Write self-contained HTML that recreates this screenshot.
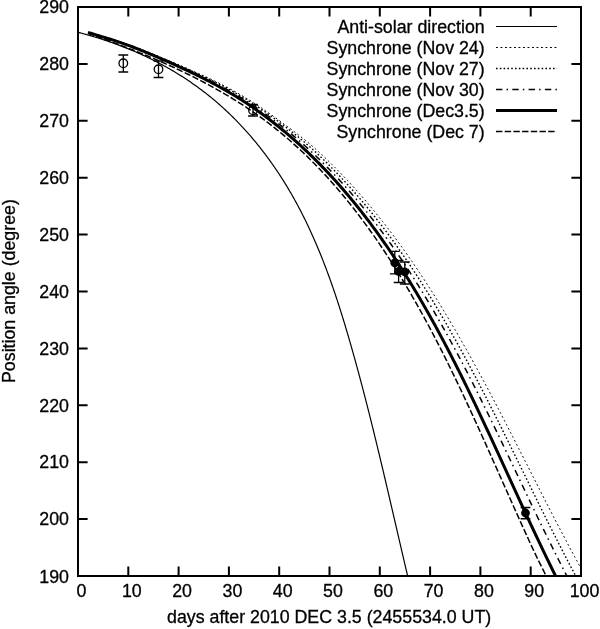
<!DOCTYPE html><html><head><meta charset="utf-8"><style>html,body{margin:0;padding:0;background:#fff;}svg{display:block;will-change:transform}</style></head><body>
<svg width="600" height="629" viewBox="0 0 600 629">
<rect width="600" height="629" fill="#fff"/>
<defs><clipPath id="pc"><rect x="78" y="7" width="503" height="569"/></clipPath></defs>
<g fill="none" stroke="#000" stroke-linejoin="round" clip-path="url(#pc)">
<path d="M77.74 32.24L79.06 32.58L80.38 32.92L81.69 33.27L83.01 33.62L84.33 33.98L85.64 34.34L86.96 34.71L88.27 35.08L89.59 35.45L90.90 35.83L92.21 36.22L93.52 36.60L94.83 37.00L96.14 37.40L97.45 37.80L98.75 38.20L100.06 38.62L101.36 39.03L102.66 39.45L103.96 39.88L105.26 40.31L106.56 40.75L107.86 41.18L109.15 41.63L110.45 42.08L111.74 42.53L113.03 42.99L114.32 43.45L115.61 43.92L116.89 44.39L118.18 44.87L119.46 45.35L120.74 45.84L122.02 46.33L123.30 46.83L124.57 47.33L125.85 47.83L127.12 48.35L128.39 48.86L129.66 49.38L130.92 49.91L132.19 50.43L133.45 50.97L134.71 51.51L135.97 52.05L137.22 52.60L138.48 53.16L139.73 53.71L140.98 54.28L142.22 54.85L143.47 55.42L144.71 56.00L145.95 56.58L147.18 57.17L148.42 57.76L149.65 58.36L150.88 58.96L152.11 59.57L153.33 60.18L154.55 60.79L155.77 61.42L156.99 62.04L158.20 62.67L159.41 63.31L160.62 63.95L161.82 64.60L163.03 65.25L164.23 65.91L165.42 66.57L166.62 67.23L167.81 67.90L168.99 68.58L170.18 69.26L171.36 69.95L172.54 70.64L173.71 71.34L174.88 72.04L176.05 72.74L177.22 73.45L178.38 74.17L179.54 74.89L180.69 75.62L181.84 76.35L182.99 77.08L184.14 77.82L185.28 78.57L186.42 79.32L187.55 80.07L188.68 80.83L189.81 81.60L190.94 82.37L192.06 83.14L193.17 83.92L194.29 84.70L195.40 85.49L196.50 86.29L197.61 87.09L198.71 87.89L199.80 88.70L200.89 89.51L201.98 90.33L203.06 91.15L204.15 91.98L205.22 92.81L206.29 93.65L207.36 94.49L208.43 95.34L209.49 96.19L210.55 97.04L211.60 97.90L212.65 98.77L213.69 99.64L214.73 100.51L215.77 101.39L216.80 102.28L217.83 103.17L218.86 104.06L219.88 104.96L220.89 105.86L221.91 106.77L222.91 107.68L223.92 108.59L224.92 109.51L225.91 110.44L226.91 111.37L227.90 112.30L228.88 113.24L229.86 114.18L230.84 115.12L231.81 116.07L232.78 117.03L233.74 117.99L234.70 118.95L235.66 119.92L236.61 120.89L237.56 121.86L238.50 122.84L239.44 123.83L240.37 124.81L241.31 125.80L242.23 126.80L243.16 127.80L244.08 128.80L244.99 129.81L245.91 130.82L246.81 131.83L247.72 132.85L248.62 133.87L249.51 134.90L250.40 135.93L251.29 136.96L252.17 138.00L253.05 139.04L253.93 140.08L254.80 141.13L255.67 142.18L256.53 143.23L257.39 144.29L258.25 145.35L259.10 146.41L259.95 147.48L260.79 148.55L261.63 149.63L262.47 150.70L263.30 151.78L264.13 152.87L264.95 153.96L265.77 155.05L266.58 156.14L267.40 157.24L268.20 158.34L269.01 159.44L269.81 160.55L270.60 161.65L271.40 162.77L272.18 163.88L272.97 165.00L273.75 166.12L274.52 167.24L275.29 168.37L276.06 169.50L276.83 170.63L277.59 171.76L278.34 172.90L279.10 174.04L279.84 175.19L280.59 176.33L281.33 177.48L282.06 178.63L282.80 179.78L283.52 180.94L284.25 182.10L284.97 183.26L285.69 184.42L286.40 185.59L287.11 186.75L287.81 187.92L288.51 189.10L289.21 190.27L289.90 191.45L290.59 192.63L291.28 193.81L291.96 194.99L292.63 196.18L293.31 197.37L293.98 198.56L294.64 199.75L295.30 200.95L295.96 202.14L296.61 203.34L297.26 204.54L297.91 205.74L298.55 206.95L299.19 208.16L299.82 209.36L300.46 210.57L301.08 211.79L301.71 213.00L302.33 214.22L302.94 215.44L303.55 216.66L304.16 217.88L304.77 219.10L305.37 220.33L305.97 221.55L306.56 222.78L307.15 224.01L307.74 225.24L308.33 226.48L308.91 227.71L309.49 228.95L310.06 230.19L310.63 231.43L311.20 232.67L311.76 233.92L312.32 235.16L312.88 236.41L313.44 237.66L313.99 238.91L314.54 240.16L315.08 241.41L315.63 242.67L316.16 243.92L316.70 245.18L317.23 246.44L317.76 247.70L318.29 248.96L318.82 250.22L319.34 251.49L319.86 252.75L320.37 254.02L320.89 255.29L321.40 256.56L321.90 257.83L322.41 259.10L322.91 260.38L323.41 261.65L323.90 262.93L324.40 264.20L324.89 265.48L325.38 266.76L325.86 268.04L326.35 269.32L326.83 270.61L327.31 271.89L327.78 273.17L328.25 274.46L328.73 275.75L329.19 277.04L329.66 278.33L330.12 279.62L330.58 280.91L331.04 282.20L331.50 283.49L331.96 284.79L332.41 286.08L332.86 287.38L333.31 288.67L333.75 289.97L334.19 291.27L334.64 292.57L335.07 293.87L335.51 295.17L335.95 296.47L336.38 297.77L336.81 299.07L337.24 300.38L337.67 301.68L338.09 302.99L338.52 304.29L338.94 305.60L339.36 306.91L339.78 308.21L340.19 309.52L340.61 310.83L341.02 312.14L341.43 313.45L341.84 314.76L342.25 316.07L342.65 317.38L343.06 318.70L343.46 320.01L343.86 321.32L344.26 322.63L344.66 323.95L345.05 325.26L345.45 326.58L345.84 327.89L346.24 329.21L346.63 330.52L347.02 331.84L347.40 333.15L347.79 334.47L348.18 335.79L348.56 337.10L348.94 338.42L349.33 339.74L349.71 341.06L350.09 342.37L350.46 343.69L350.84 345.01L351.22 346.33L351.59 347.65L351.97 348.96L352.34 350.28L352.71 351.60L353.08 352.92L353.45 354.24L353.82 355.56L354.19 356.88L354.56 358.19L354.92 359.51L355.29 360.83L355.65 362.15L356.01 363.47L356.38 364.79L356.74 366.11L357.10 367.43L357.46 368.75L357.82 370.07L358.17 371.39L358.53 372.71L358.89 374.02L359.24 375.34L359.60 376.66L359.95 377.98L360.30 379.30L360.65 380.62L361.01 381.94L361.36 383.26L361.71 384.58L362.05 385.90L362.40 387.22L362.75 388.54L363.10 389.86L363.44 391.19L363.79 392.51L364.13 393.83L364.47 395.15L364.82 396.47L365.16 397.79L365.50 399.11L365.84 400.43L366.18 401.75L366.52 403.07L366.86 404.39L367.19 405.71L367.53 407.04L367.87 408.36L368.20 409.68L368.54 411.00L368.87 412.32L369.21 413.64L369.54 414.97L369.87 416.29L370.20 417.61L370.53 418.93L370.86 420.25L371.19 421.58L371.52 422.90L371.85 424.22L372.18 425.54L372.51 426.87L372.84 428.19L373.16 429.51L373.49 430.83L373.81 432.16L374.14 433.48L374.46 434.80L374.79 436.13L375.11 437.45L375.43 438.77L375.76 440.10L376.08 441.42L376.40 442.74L376.72 444.07L377.04 445.39L377.36 446.71L377.68 448.04L378.00 449.36L378.32 450.69L378.64 452.01L378.96 453.33L379.28 454.66L379.59 455.98L379.91 457.31L380.23 458.63L380.54 459.96L380.86 461.28L381.18 462.61L381.49 463.93L381.81 465.26L382.12 466.58L382.43 467.91L382.75 469.23L383.06 470.56L383.38 471.88L383.69 473.21L384.00 474.54L384.31 475.86L384.63 477.19L384.94 478.51L385.25 479.84L385.56 481.17L385.87 482.49L386.18 483.82L386.50 485.15L386.81 486.47L387.12 487.80L387.43 489.13L387.74 490.45L388.05 491.78L388.36 493.11L388.67 494.43L388.98 495.76L389.28 497.09L389.59 498.42L389.90 499.75L390.21 501.07L390.52 502.40L390.83 503.73L391.14 505.06L391.45 506.39L391.75 507.71L392.06 509.04L392.37 510.37L392.68 511.70L392.99 513.03L393.30 514.36L393.60 515.69L393.91 517.02L394.22 518.35L394.53 519.67L394.84 521.00L395.14 522.33L395.45 523.66L395.76 524.99L396.07 526.32L396.38 527.65L396.68 528.98L396.99 530.31L397.30 531.64L397.61 532.98L397.92 534.31L398.22 535.64L398.53 536.97L398.84 538.30L399.15 539.63L399.46 540.96L399.77 542.29L400.08 543.62L400.39 544.96L400.70 546.29L401.00 547.62L401.31 548.95L401.62 550.28L401.93 551.62L402.24 552.95L402.55 554.28L402.86 555.61L403.18 556.95L403.49 558.28L403.80 559.61L404.11 560.95L404.42 562.28L404.73 563.61L405.04 564.95L405.36 566.28L405.67 567.61L405.98 568.95L406.29 570.28L406.61 571.62L406.92 572.95L407.24 574.28L407.55 575.62L407.86 576.95L408.18 578.29L408.49 579.62" stroke-width="1.2"/>
<path d="M88.26 32.50L91.44 33.43L94.69 34.36L97.98 35.29L101.28 36.22L104.58 37.15L107.84 38.08L111.02 39.02L114.12 39.95L117.12 40.88L120.02 41.81L122.83 42.74L125.57 43.67L128.24 44.60L130.85 45.53L133.41 46.46L135.92 47.39L138.39 48.32L140.82 49.25L143.21 50.18L145.58 51.11L147.92 52.05L150.23 52.98L152.52 53.91L154.80 54.84L157.06 55.77L159.31 56.70L161.55 57.63L163.79 58.56L166.02 59.49L168.24 60.42L170.46 61.35L172.67 62.28L174.88 63.21L177.08 64.14L179.26 65.08L181.44 66.01L183.61 66.94L185.77 67.87L187.91 68.80L190.04 69.73L192.16 70.66L194.26 71.59L196.35 72.52L198.42 73.45L200.48 74.38L202.52 75.31L204.54 76.24L206.54 77.17L208.53 78.11L210.49 79.04L212.44 79.97L214.36 80.90L216.27 81.83L218.15 82.76L220.02 83.69L221.86 84.62L223.68 85.55L225.47 86.48L227.25 87.41L229.00 88.34L230.72 89.27L232.43 90.20L234.11 91.14L235.77 92.07L237.41 93.00L239.04 93.93L240.65 94.86L242.23 95.79L243.80 96.72L245.36 97.65L246.89 98.58L248.41 99.51L249.91 100.44L251.40 101.37L252.87 102.30L254.32 103.23L255.76 104.17L257.19 105.10L258.60 106.03L260.01 106.96L261.39 107.89L262.77 108.82L264.14 109.75L265.49 110.68L266.84 111.61L268.18 112.54L269.50 113.47L270.82 114.40L272.13 115.33L273.43 116.26L274.73 117.20L276.02 118.13L277.30 119.06L278.57 119.99L279.84 120.92L281.11 121.85L282.38 122.78L283.64 123.71L284.90 124.64L286.16 125.57L287.42 126.50L288.67 127.43L289.91 128.36L291.15 129.29L292.39 130.23L293.62 131.16L294.84 132.09L296.06 133.02L297.27 133.95L298.48 134.88L299.67 135.81L300.86 136.74L302.05 137.67L303.22 138.60L304.38 139.53L305.54 140.46L306.68 141.39L307.82 142.32L308.94 143.26L310.05 144.19L311.16 145.12L312.25 146.05L313.32 146.98L314.39 147.91L315.44 148.84L316.48 149.77L317.51 150.70L318.52 151.63L319.53 152.56L320.53 153.49L321.53 154.42L322.51 155.35L323.49 156.29L324.47 157.22L325.44 158.15L326.41 159.08L327.37 160.01L328.33 160.94L329.29 161.87L330.24 162.80L331.19 163.73L332.13 164.66L333.07 165.59L334.00 166.52L334.93 167.45L335.85 168.38L336.77 169.32L337.68 170.25L338.60 171.18L339.50 172.11L340.41 173.04L341.30 173.97L342.20 174.90L343.09 175.83L343.97 176.76L344.86 177.69L345.74 178.62L346.61 179.55L347.48 180.48L348.35 181.41L349.21 182.35L350.07 183.28L350.93 184.21L351.78 185.14L352.63 186.07L353.47 187.00L354.32 187.93L355.16 188.86L355.99 189.79L356.82 190.72L357.65 191.65L358.47 192.58L359.29 193.51L360.11 194.44L360.93 195.38L361.74 196.31L362.55 197.24L363.35 198.17L364.15 199.10L364.95 200.03L365.75 200.96L366.54 201.89L367.33 202.82L368.12 203.75L368.90 204.68L369.68 205.61L370.46 206.54L371.23 207.47L372.00 208.41L372.77 209.34L373.54 210.27L374.30 211.20L375.06 212.13L375.82 213.06L376.58 213.99L377.33 214.92L378.08 215.85L378.83 216.78L379.57 217.71L380.31 218.64L381.05 219.57L381.79 220.51L382.52 221.44L383.25 222.37L383.98 223.30L384.71 224.23L385.43 225.16L386.15 226.09L386.87 227.02L387.59 227.95L388.31 228.88L389.02 229.81L389.73 230.74L390.43 231.67L391.14 232.60L391.84 233.54L392.54 234.47L393.24 235.40L393.94 236.33L394.63 237.26L395.32 238.19L396.01 239.12L396.70 240.05L397.39 240.98L398.07 241.91L398.75 242.84L399.43 243.77L400.10 244.70L400.78 245.63L401.45 246.57L402.12 247.50L402.79 248.43L403.46 249.36L404.12 250.29L404.79 251.22L405.45 252.15L406.11 253.08L406.76 254.01L407.42 254.94L408.07 255.87L408.72 256.80L409.37 257.73L410.02 258.66L410.67 259.60L411.31 260.53L411.95 261.46L412.59 262.39L413.23 263.32L413.87 264.25L414.50 265.18L415.14 266.11L415.77 267.04L416.40 267.97L417.03 268.90L417.65 269.83L418.28 270.76L418.90 271.69L419.52 272.63L420.15 273.56L420.76 274.49L421.38 275.42L422.00 276.35L422.61 277.28L423.22 278.21L423.83 279.14L424.44 280.07L425.05 281.00L425.66 281.93L426.26 282.86L426.86 283.79L427.47 284.72L428.07 285.66L428.67 286.59L429.26 287.52L429.86 288.45L430.45 289.38L431.05 290.31L431.64 291.24L432.23 292.17L432.82 293.10L433.41 294.03L433.99 294.96L434.58 295.89L435.16 296.82L435.74 297.75L436.32 298.69L436.90 299.62L437.48 300.55L438.06 301.48L438.64 302.41L439.21 303.34L439.78 304.27L440.36 305.20L440.93 306.13L441.50 307.06L442.07 307.99L442.63 308.92L443.20 309.85L443.76 310.78L444.33 311.72L444.89 312.65L445.45 313.58L446.01 314.51L446.57 315.44L447.13 316.37L447.69 317.30L448.24 318.23L448.80 319.16L449.35 320.09L449.90 321.02L450.45 321.95L451.01 322.88L451.55 323.81L452.10 324.75L452.65 325.68L453.20 326.61L453.74 327.54L454.29 328.47L454.83 329.40L455.37 330.33L455.91 331.26L456.45 332.19L456.99 333.12L457.53 334.05L458.07 334.98L458.61 335.91L459.14 336.84L459.68 337.78L460.21 338.71L460.74 339.64L461.27 340.57L461.81 341.50L462.34 342.43L462.86 343.36L463.39 344.29L463.92 345.22L464.45 346.15L464.97 347.08L465.50 348.01L466.02 348.94L466.55 349.87L467.07 350.81L467.59 351.74L468.11 352.67L468.63 353.60L469.15 354.53L469.67 355.46L470.19 356.39L470.70 357.32L471.22 358.25L471.74 359.18L472.25 360.11L472.76 361.04L473.28 361.97L473.79 362.90L474.30 363.84L474.81 364.77L475.32 365.70L475.83 366.63L476.34 367.56L476.85 368.49L477.36 369.42L477.87 370.35L478.37 371.28L478.88 372.21L479.38 373.14L479.89 374.07L480.39 375.00L480.89 375.93L481.40 376.87L481.90 377.80L482.40 378.73L482.90 379.66L483.40 380.59L483.90 381.52L484.40 382.45L484.90 383.38L485.40 384.31L485.89 385.24L486.39 386.17L486.89 387.10L487.38 388.03L487.88 388.96L488.37 389.90L488.87 390.83L489.36 391.76L489.85 392.69L490.34 393.62L490.84 394.55L491.33 395.48L491.82 396.41L492.31 397.34L492.80 398.27L493.29 399.20L493.78 400.13L494.27 401.06L494.76 401.99L495.24 402.93L495.73 403.86L496.22 404.79L496.70 405.72L497.19 406.65L497.68 407.58L498.16 408.51L498.65 409.44L499.13 410.37L499.62 411.30L500.10 412.23L500.58 413.16L501.07 414.09L501.55 415.03L502.03 415.96L502.51 416.89L503.00 417.82L503.48 418.75L503.96 419.68L504.44 420.61L504.92 421.54L505.40 422.47L505.88 423.40L506.36 424.33L506.84 425.26L507.32 426.19L507.80 427.12L508.27 428.06L508.75 428.99L509.23 429.92L509.71 430.85L510.18 431.78L510.66 432.71L511.14 433.64L511.62 434.57L512.09 435.50L512.57 436.43L513.04 437.36L513.52 438.29L514.00 439.22L514.47 440.15L514.95 441.09L515.42 442.02L515.90 442.95L516.37 443.88L516.85 444.81L517.32 445.74L517.80 446.67L518.27 447.60L518.74 448.53L519.22 449.46L519.69 450.39L520.17 451.32L520.64 452.25L521.11 453.18L521.59 454.12L522.06 455.05L522.53 455.98L523.01 456.91L523.48 457.84L523.95 458.77L524.43 459.70L524.90 460.63L525.37 461.56L525.84 462.49L526.32 463.42L526.79 464.35L527.26 465.28L527.74 466.21L528.21 467.15L528.68 468.08L529.15 469.01L529.63 469.94L530.10 470.87L530.57 471.80L531.05 472.73L531.52 473.66L531.99 474.59L532.46 475.52L532.94 476.45L533.41 477.38L533.88 478.31L534.36 479.24L534.83 480.18L535.30 481.11L535.78 482.04L536.25 482.97L536.73 483.90L537.20 484.83L537.67 485.76L538.15 486.69L538.62 487.62L539.10 488.55L539.57 489.48L540.05 490.41L540.52 491.34L541.00 492.27L541.47 493.21L541.95 494.14L542.42 495.07L542.90 496.00L543.37 496.93L543.85 497.86L544.33 498.79L544.80 499.72L545.28 500.65L545.76 501.58L546.23 502.51L546.71 503.44L547.19 504.37L547.67 505.30L548.14 506.24L548.62 507.17L549.10 508.10L549.58 509.03L550.06 509.96L550.54 510.89L551.02 511.82L551.50 512.75L551.98 513.68L552.46 514.61L552.94 515.54L553.42 516.47L553.90 517.40L554.39 518.33L554.87 519.27L555.35 520.20L555.83 521.13L556.32 522.06L556.80 522.99L557.29 523.92L557.77 524.85L558.26 525.78L558.74 526.71L559.23 527.64L559.71 528.57L560.20 529.50L560.69 530.43L561.17 531.36L561.66 532.30L562.15 533.23L562.64 534.16L563.13 535.09L563.62 536.02L564.11 536.95L564.60 537.88L565.09 538.81L565.58 539.74L566.07 540.67L566.56 541.60L567.06 542.53L567.55 543.46L568.04 544.39L568.54 545.33L569.03 546.26L569.53 547.19L570.03 548.12L570.52 549.05L571.02 549.98L571.52 550.91L572.02 551.84L572.51 552.77L573.01 553.70L573.51 554.63L574.01 555.56L574.52 556.49L575.02 557.42L575.52 558.36L576.02 559.29L576.53 560.22L577.03 561.15L577.54 562.08L578.04 563.01L578.55 563.94L579.05 564.87L579.56 565.80L580.07 566.73L580.58 567.66L581.09 568.59L581.60 569.52L582.11 570.45L582.62 571.39L583.13 572.32L583.65 573.25L584.16 574.18L584.67 575.11" stroke-width="1.0" stroke-dasharray="1.9 2.6"/>
<path d="M88.30 32.50L91.40 33.43L94.57 34.36L97.78 35.29L101.01 36.22L104.23 37.15L107.43 38.08L110.56 39.02L113.62 39.95L116.59 40.88L119.47 41.81L122.26 42.74L124.98 43.67L127.63 44.60L130.23 45.53L132.78 46.46L135.27 47.39L137.73 48.32L140.15 49.25L142.54 50.18L144.89 51.11L147.22 52.05L149.53 52.98L151.81 53.91L154.08 54.84L156.33 55.77L158.57 56.70L160.79 57.63L163.01 58.56L165.23 59.49L167.43 60.42L169.63 61.35L171.82 62.28L174.00 63.21L176.17 64.14L178.33 65.08L180.48 66.01L182.61 66.94L184.74 67.87L186.85 68.80L188.94 69.73L191.02 70.66L193.09 71.59L195.14 72.52L197.18 73.45L199.20 74.38L201.20 75.31L203.18 76.24L205.15 77.17L207.10 78.11L209.03 79.04L210.94 79.97L212.83 80.90L214.70 81.83L216.55 82.76L218.38 83.69L220.20 84.62L221.99 85.55L223.76 86.48L225.51 87.41L227.23 88.34L228.94 89.27L230.62 90.20L232.29 91.14L233.94 92.07L235.56 93.00L237.17 93.93L238.77 94.86L240.34 95.79L241.90 96.72L243.44 97.65L244.96 98.58L246.47 99.51L247.97 100.44L249.44 101.37L250.90 102.30L252.35 103.23L253.78 104.17L255.20 105.10L256.60 106.03L257.99 106.96L259.37 107.89L260.74 108.82L262.10 109.75L263.44 110.68L264.78 111.61L266.10 112.54L267.41 113.47L268.72 114.40L270.01 115.33L271.30 116.26L272.58 117.20L273.85 118.13L275.12 119.06L276.37 119.99L277.62 120.92L278.87 121.85L280.10 122.78L281.34 123.71L282.57 124.64L283.79 125.57L285.00 126.50L286.21 127.43L287.41 128.36L288.61 129.29L289.80 130.23L290.99 131.16L292.16 132.09L293.34 133.02L294.50 133.95L295.66 134.88L296.81 135.81L297.95 136.74L299.09 137.67L300.21 138.60L301.33 139.53L302.45 140.46L303.55 141.39L304.65 142.32L305.73 143.26L306.81 144.19L307.88 145.12L308.94 146.05L310.00 146.98L311.04 147.91L312.07 148.84L313.10 149.77L314.11 150.70L315.12 151.63L316.12 152.56L317.11 153.49L318.10 154.42L319.08 155.35L320.05 156.29L321.02 157.22L321.98 158.15L322.95 159.08L323.90 160.01L324.85 160.94L325.80 161.87L326.74 162.80L327.68 163.73L328.62 164.66L329.55 165.59L330.47 166.52L331.39 167.45L332.30 168.38L333.22 169.32L334.12 170.25L335.03 171.18L335.93 172.11L336.82 173.04L337.71 173.97L338.60 174.90L339.48 175.83L340.36 176.76L341.23 177.69L342.10 178.62L342.97 179.55L343.83 180.48L344.69 181.41L345.54 182.35L346.39 183.28L347.24 184.21L348.09 185.14L348.93 186.07L349.76 187.00L350.60 187.93L351.43 188.86L352.25 189.79L353.07 190.72L353.89 191.65L354.71 192.58L355.52 193.51L356.33 194.44L357.14 195.38L357.94 196.31L358.74 197.24L359.53 198.17L360.33 199.10L361.12 200.03L361.90 200.96L362.69 201.89L363.47 202.82L364.24 203.75L365.02 204.68L365.79 205.61L366.56 206.54L367.32 207.47L368.09 208.41L368.85 209.34L369.60 210.27L370.36 211.20L371.11 212.13L371.86 213.06L372.60 213.99L373.35 214.92L374.09 215.85L374.82 216.78L375.56 217.71L376.29 218.64L377.02 219.57L377.75 220.51L378.47 221.44L379.19 222.37L379.91 223.30L380.63 224.23L381.35 225.16L382.06 226.09L382.77 227.02L383.47 227.95L384.18 228.88L384.88 229.81L385.58 230.74L386.28 231.67L386.97 232.60L387.67 233.54L388.36 234.47L389.05 235.40L389.73 236.33L390.42 237.26L391.10 238.19L391.78 239.12L392.45 240.05L393.13 240.98L393.80 241.91L394.47 242.84L395.14 243.77L395.81 244.70L396.47 245.63L397.14 246.57L397.80 247.50L398.45 248.43L399.11 249.36L399.77 250.29L400.42 251.22L401.07 252.15L401.72 253.08L402.36 254.01L403.01 254.94L403.65 255.87L404.29 256.80L404.93 257.73L405.57 258.66L406.20 259.60L406.84 260.53L407.47 261.46L408.10 262.39L408.73 263.32L409.35 264.25L409.98 265.18L410.60 266.11L411.22 267.04L411.84 267.97L412.46 268.90L413.07 269.83L413.69 270.76L414.30 271.69L414.91 272.63L415.52 273.56L416.13 274.49L416.74 275.42L417.34 276.35L417.94 277.28L418.54 278.21L419.14 279.14L419.74 280.07L420.34 281.00L420.93 281.93L421.53 282.86L422.12 283.79L422.71 284.72L423.30 285.66L423.89 286.59L424.47 287.52L425.06 288.45L425.64 289.38L426.22 290.31L426.80 291.24L427.38 292.17L427.96 293.10L428.54 294.03L429.11 294.96L429.68 295.89L430.26 296.82L430.83 297.75L431.40 298.69L431.96 299.62L432.53 300.55L433.10 301.48L433.66 302.41L434.22 303.34L434.79 304.27L435.35 305.20L435.91 306.13L436.46 307.06L437.02 307.99L437.58 308.92L438.13 309.85L438.68 310.78L439.23 311.72L439.79 312.65L440.34 313.58L440.88 314.51L441.43 315.44L441.98 316.37L442.52 317.30L443.07 318.23L443.61 319.16L444.15 320.09L444.69 321.02L445.23 321.95L445.77 322.88L446.31 323.81L446.84 324.75L447.38 325.68L447.91 326.61L448.44 327.54L448.97 328.47L449.51 329.40L450.04 330.33L450.56 331.26L451.09 332.19L451.62 333.12L452.15 334.05L452.67 334.98L453.19 335.91L453.72 336.84L454.24 337.78L454.76 338.71L455.28 339.64L455.80 340.57L456.32 341.50L456.84 342.43L457.35 343.36L457.87 344.29L458.38 345.22L458.90 346.15L459.41 347.08L459.92 348.01L460.43 348.94L460.94 349.87L461.45 350.81L461.96 351.74L462.47 352.67L462.98 353.60L463.48 354.53L463.99 355.46L464.49 356.39L465.00 357.32L465.50 358.25L466.00 359.18L466.50 360.11L467.01 361.04L467.51 361.97L468.00 362.90L468.50 363.84L469.00 364.77L469.50 365.70L469.99 366.63L470.49 367.56L470.99 368.49L471.48 369.42L471.97 370.35L472.47 371.28L472.96 372.21L473.45 373.14L473.94 374.07L474.43 375.00L474.92 375.93L475.41 376.87L475.90 377.80L476.39 378.73L476.87 379.66L477.36 380.59L477.84 381.52L478.33 382.45L478.81 383.38L479.30 384.31L479.78 385.24L480.26 386.17L480.75 387.10L481.23 388.03L481.71 388.96L482.19 389.90L482.67 390.83L483.15 391.76L483.63 392.69L484.11 393.62L484.59 394.55L485.06 395.48L485.54 396.41L486.02 397.34L486.49 398.27L486.97 399.20L487.44 400.13L487.92 401.06L488.39 401.99L488.86 402.93L489.34 403.86L489.81 404.79L490.28 405.72L490.75 406.65L491.23 407.58L491.70 408.51L492.17 409.44L492.64 410.37L493.11 411.30L493.58 412.23L494.04 413.16L494.51 414.09L494.98 415.03L495.45 415.96L495.92 416.89L496.38 417.82L496.85 418.75L497.32 419.68L497.78 420.61L498.25 421.54L498.71 422.47L499.18 423.40L499.64 424.33L500.11 425.26L500.57 426.19L501.03 427.12L501.50 428.06L501.96 428.99L502.42 429.92L502.89 430.85L503.35 431.78L503.81 432.71L504.27 433.64L504.73 434.57L505.20 435.50L505.66 436.43L506.12 437.36L506.58 438.29L507.04 439.22L507.50 440.15L507.96 441.09L508.42 442.02L508.88 442.95L509.34 443.88L509.80 444.81L510.26 445.74L510.72 446.67L511.17 447.60L511.63 448.53L512.09 449.46L512.55 450.39L513.01 451.32L513.47 452.25L513.92 453.18L514.38 454.12L514.84 455.05L515.30 455.98L515.75 456.91L516.21 457.84L516.67 458.77L517.13 459.70L517.58 460.63L518.04 461.56L518.50 462.49L518.95 463.42L519.41 464.35L519.87 465.28L520.32 466.21L520.78 467.15L521.24 468.08L521.69 469.01L522.15 469.94L522.61 470.87L523.07 471.80L523.52 472.73L523.98 473.66L524.44 474.59L524.89 475.52L525.35 476.45L525.81 477.38L526.26 478.31L526.72 479.24L527.18 480.18L527.63 481.11L528.09 482.04L528.55 482.97L529.01 483.90L529.46 484.83L529.92 485.76L530.38 486.69L530.84 487.62L531.29 488.55L531.75 489.48L532.21 490.41L532.67 491.34L533.13 492.27L533.58 493.21L534.04 494.14L534.50 495.07L534.96 496.00L535.42 496.93L535.88 497.86L536.34 498.79L536.80 499.72L537.26 500.65L537.72 501.58L538.18 502.51L538.64 503.44L539.10 504.37L539.56 505.30L540.02 506.24L540.48 507.17L540.95 508.10L541.41 509.03L541.87 509.96L542.33 510.89L542.79 511.82L543.26 512.75L543.72 513.68L544.18 514.61L544.65 515.54L545.11 516.47L545.58 517.40L546.04 518.33L546.51 519.27L546.97 520.20L547.44 521.13L547.90 522.06L548.37 522.99L548.84 523.92L549.30 524.85L549.77 525.78L550.24 526.71L550.71 527.64L551.17 528.57L551.64 529.50L552.11 530.43L552.58 531.36L553.05 532.30L553.52 533.23L553.99 534.16L554.47 535.09L554.94 536.02L555.41 536.95L555.88 537.88L556.35 538.81L556.83 539.74L557.30 540.67L557.78 541.60L558.25 542.53L558.73 543.46L559.20 544.39L559.68 545.33L560.16 546.26L560.63 547.19L561.11 548.12L561.59 549.05L562.07 549.98L562.55 550.91L563.03 551.84L563.51 552.77L563.99 553.70L564.47 554.63L564.95 555.56L565.44 556.49L565.92 557.42L566.40 558.36L566.89 559.29L567.37 560.22L567.86 561.15L568.35 562.08L568.83 563.01L569.32 563.94L569.81 564.87L570.30 565.80L570.79 566.73L571.28 567.66L571.77 568.59L572.26 569.52L572.75 570.45L573.24 571.39L573.74 572.32L574.23 573.25L574.73 574.18L575.22 575.11L575.72 576.04L576.22 576.97L576.71 577.90L577.21 578.83L577.71 579.76" stroke-width="1.4" stroke-dasharray="1.6 2.2"/>
<path d="M88.34 32.50L91.37 33.43L94.46 34.36L97.59 35.29L100.75 36.22L103.90 37.15L107.03 38.08L110.11 39.02L113.12 39.95L116.05 40.88L118.89 41.81L121.65 42.74L124.33 43.67L126.96 44.60L129.52 45.53L132.04 46.46L134.51 47.39L136.95 48.32L139.34 49.25L141.70 50.18L144.04 51.11L146.34 52.05L148.63 52.98L150.89 53.91L153.13 54.84L155.36 55.77L157.57 56.70L159.77 57.63L161.96 58.56L164.14 59.49L166.32 60.42L168.48 61.35L170.63 62.28L172.77 63.21L174.90 64.14L177.02 65.08L179.12 66.01L181.21 66.94L183.29 67.87L185.35 68.80L187.40 69.73L189.44 70.66L191.45 71.59L193.46 72.52L195.44 73.45L197.41 74.38L199.37 75.31L201.30 76.24L203.22 77.17L205.12 78.11L207.01 79.04L208.88 79.97L210.73 80.90L212.56 81.83L214.37 82.76L216.17 83.69L217.94 84.62L219.70 85.55L221.44 86.48L223.17 87.41L224.87 88.34L226.55 89.27L228.22 90.20L229.87 91.14L231.50 92.07L233.12 93.00L234.72 93.93L236.30 94.86L237.87 95.79L239.41 96.72L240.95 97.65L242.46 98.58L243.97 99.51L245.45 100.44L246.93 101.37L248.38 102.30L249.82 103.23L251.25 104.17L252.66 105.10L254.06 106.03L255.45 106.96L256.82 107.89L258.18 108.82L259.53 109.75L260.87 110.68L262.20 111.61L263.51 112.54L264.82 113.47L266.11 114.40L267.39 115.33L268.67 116.26L269.93 117.20L271.19 118.13L272.43 119.06L273.67 119.99L274.90 120.92L276.12 121.85L277.33 122.78L278.53 123.71L279.73 124.64L280.92 125.57L282.09 126.50L283.27 127.43L284.43 128.36L285.59 129.29L286.73 130.23L287.88 131.16L289.01 132.09L290.14 133.02L291.26 133.95L292.37 134.88L293.48 135.81L294.57 136.74L295.67 137.67L296.75 138.60L297.83 139.53L298.91 140.46L299.97 141.39L301.03 142.32L302.08 143.26L303.13 144.19L304.17 145.12L305.21 146.05L306.23 146.98L307.26 147.91L308.27 148.84L309.28 149.77L310.29 150.70L311.29 151.63L312.28 152.56L313.27 153.49L314.25 154.42L315.22 155.35L316.19 156.29L317.16 157.22L318.12 158.15L319.07 159.08L320.02 160.01L320.97 160.94L321.91 161.87L322.85 162.80L323.78 163.73L324.71 164.66L325.63 165.59L326.55 166.52L327.46 167.45L328.37 168.38L329.28 169.32L330.18 170.25L331.07 171.18L331.97 172.11L332.85 173.04L333.74 173.97L334.62 174.90L335.49 175.83L336.37 176.76L337.23 177.69L338.10 178.62L338.96 179.55L339.81 180.48L340.66 181.41L341.51 182.35L342.36 183.28L343.20 184.21L344.04 185.14L344.87 186.07L345.70 187.00L346.53 187.93L347.35 188.86L348.17 189.79L348.98 190.72L349.80 191.65L350.60 192.58L351.41 193.51L352.21 194.44L353.01 195.38L353.81 196.31L354.60 197.24L355.39 198.17L356.17 199.10L356.96 200.03L357.74 200.96L358.51 201.89L359.29 202.82L360.06 203.75L360.82 204.68L361.59 205.61L362.35 206.54L363.11 207.47L363.86 208.41L364.62 209.34L365.37 210.27L366.11 211.20L366.86 212.13L367.60 213.06L368.34 213.99L369.07 214.92L369.80 215.85L370.53 216.78L371.26 217.71L371.99 218.64L372.71 219.57L373.43 220.51L374.15 221.44L374.86 222.37L375.57 223.30L376.28 224.23L376.99 225.16L377.69 226.09L378.39 227.02L379.09 227.95L379.79 228.88L380.49 229.81L381.18 230.74L381.87 231.67L382.56 232.60L383.24 233.54L383.92 234.47L384.60 235.40L385.28 236.33L385.96 237.26L386.63 238.19L387.30 239.12L387.97 240.05L388.64 240.98L389.30 241.91L389.97 242.84L390.63 243.77L391.29 244.70L391.94 245.63L392.60 246.57L393.25 247.50L393.90 248.43L394.55 249.36L395.19 250.29L395.84 251.22L396.48 252.15L397.12 253.08L397.76 254.01L398.40 254.94L399.03 255.87L399.66 256.80L400.29 257.73L400.92 258.66L401.55 259.60L402.17 260.53L402.80 261.46L403.42 262.39L404.04 263.32L404.66 264.25L405.27 265.18L405.89 266.11L406.50 267.04L407.11 267.97L407.72 268.90L408.32 269.83L408.93 270.76L409.53 271.69L410.14 272.63L410.74 273.56L411.34 274.49L411.93 275.42L412.53 276.35L413.12 277.28L413.72 278.21L414.31 279.14L414.89 280.07L415.48 281.00L416.07 281.93L416.65 282.86L417.24 283.79L417.82 284.72L418.40 285.66L418.98 286.59L419.55 287.52L420.13 288.45L420.70 289.38L421.28 290.31L421.85 291.24L422.42 292.17L422.98 293.10L423.55 294.03L424.12 294.96L424.68 295.89L425.24 296.82L425.81 297.75L426.37 298.69L426.92 299.62L427.48 300.55L428.04 301.48L428.59 302.41L429.15 303.34L429.70 304.27L430.25 305.20L430.80 306.13L431.35 307.06L431.89 307.99L432.44 308.92L432.98 309.85L433.53 310.78L434.07 311.72L434.61 312.65L435.15 313.58L435.69 314.51L436.23 315.44L436.76 316.37L437.30 317.30L437.83 318.23L438.36 319.16L438.90 320.09L439.43 321.02L439.96 321.95L440.48 322.88L441.01 323.81L441.54 324.75L442.06 325.68L442.59 326.61L443.11 327.54L443.63 328.47L444.15 329.40L444.67 330.33L445.19 331.26L445.71 332.19L446.22 333.12L446.74 334.05L447.25 334.98L447.77 335.91L448.28 336.84L448.79 337.78L449.30 338.71L449.81 339.64L450.32 340.57L450.83 341.50L451.34 342.43L451.84 343.36L452.35 344.29L452.85 345.22L453.35 346.15L453.86 347.08L454.36 348.01L454.86 348.94L455.36 349.87L455.86 350.81L456.36 351.74L456.85 352.67L457.35 353.60L457.84 354.53L458.34 355.46L458.83 356.39L459.33 357.32L459.82 358.25L460.31 359.18L460.80 360.11L461.29 361.04L461.78 361.97L462.27 362.90L462.76 363.84L463.24 364.77L463.73 365.70L464.21 366.63L464.70 367.56L465.18 368.49L465.66 369.42L466.15 370.35L466.63 371.28L467.11 372.21L467.59 373.14L468.07 374.07L468.55 375.00L469.03 375.93L469.50 376.87L469.98 377.80L470.46 378.73L470.93 379.66L471.41 380.59L471.88 381.52L472.36 382.45L472.83 383.38L473.30 384.31L473.77 385.24L474.25 386.17L474.72 387.10L475.19 388.03L475.66 388.96L476.12 389.90L476.59 390.83L477.06 391.76L477.53 392.69L477.99 393.62L478.46 394.55L478.93 395.48L479.39 396.41L479.86 397.34L480.32 398.27L480.78 399.20L481.25 400.13L481.71 401.06L482.17 401.99L482.63 402.93L483.09 403.86L483.55 404.79L484.01 405.72L484.47 406.65L484.93 407.58L485.39 408.51L485.85 409.44L486.31 410.37L486.77 411.30L487.22 412.23L487.68 413.16L488.14 414.09L488.59 415.03L489.05 415.96L489.50 416.89L489.96 417.82L490.41 418.75L490.86 419.68L491.32 420.61L491.77 421.54L492.22 422.47L492.68 423.40L493.13 424.33L493.58 425.26L494.03 426.19L494.48 427.12L494.93 428.06L495.38 428.99L495.83 429.92L496.28 430.85L496.73 431.78L497.18 432.71L497.63 433.64L498.08 434.57L498.53 435.50L498.98 436.43L499.43 437.36L499.87 438.29L500.32 439.22L500.77 440.15L501.22 441.09L501.66 442.02L502.11 442.95L502.56 443.88L503.00 444.81L503.45 445.74L503.89 446.67L504.34 447.60L504.79 448.53L505.23 449.46L505.68 450.39L506.12 451.32L506.57 452.25L507.01 453.18L507.46 454.12L507.90 455.05L508.34 455.98L508.79 456.91L509.23 457.84L509.68 458.77L510.12 459.70L510.56 460.63L511.01 461.56L511.45 462.49L511.89 463.42L512.34 464.35L512.78 465.28L513.22 466.21L513.67 467.15L514.11 468.08L514.55 469.01L515.00 469.94L515.44 470.87L515.88 471.80L516.33 472.73L516.77 473.66L517.21 474.59L517.66 475.52L518.10 476.45L518.54 477.38L518.98 478.31L519.43 479.24L519.87 480.18L520.31 481.11L520.76 482.04L521.20 482.97L521.64 483.90L522.09 484.83L522.53 485.76L522.97 486.69L523.42 487.62L523.86 488.55L524.31 489.48L524.75 490.41L525.19 491.34L525.64 492.27L526.08 493.21L526.53 494.14L526.97 495.07L527.42 496.00L527.86 496.93L528.31 497.86L528.75 498.79L529.20 499.72L529.64 500.65L530.09 501.58L530.53 502.51L530.98 503.44L531.43 504.37L531.87 505.30L532.32 506.24L532.77 507.17L533.21 508.10L533.66 509.03L534.11 509.96L534.55 510.89L535.00 511.82L535.45 512.75L535.90 513.68L536.35 514.61L536.80 515.54L537.25 516.47L537.70 517.40L538.15 518.33L538.60 519.27L539.05 520.20L539.50 521.13L539.95 522.06L540.40 522.99L540.85 523.92L541.30 524.85L541.76 525.78L542.21 526.71L542.66 527.64L543.12 528.57L543.57 529.50L544.02 530.43L544.48 531.36L544.93 532.30L545.39 533.23L545.84 534.16L546.30 535.09L546.76 536.02L547.21 536.95L547.67 537.88L548.13 538.81L548.59 539.74L549.05 540.67L549.50 541.60L549.96 542.53L550.42 543.46L550.88 544.39L551.35 545.33L551.81 546.26L552.27 547.19L552.73 548.12L553.19 549.05L553.66 549.98L554.12 550.91L554.59 551.84L555.05 552.77L555.52 553.70L555.98 554.63L556.45 555.56L556.92 556.49L557.38 557.42L557.85 558.36L558.32 559.29L558.79 560.22L559.26 561.15L559.73 562.08L560.20 563.01L560.67 563.94L561.14 564.87L561.62 565.80L562.09 566.73L562.57 567.66L563.04 568.59L563.52 569.52L563.99 570.45L564.47 571.39L564.95 572.32L565.42 573.25L565.90 574.18L566.38 575.11L566.86 576.04L567.34 576.97L567.82 577.90L568.31 578.83L568.79 579.76" stroke-width="1.5" stroke-dasharray="6.4 4.1 1.5 4.3"/>
<path d="M87.99 32.37L89.43 32.83L90.88 33.29L92.33 33.74L93.77 34.19L95.22 34.63L96.67 35.07L98.12 35.51L99.57 35.94L101.02 36.38L102.47 36.82L103.92 37.25L105.36 37.69L106.81 38.13L108.26 38.58L109.70 39.02L111.15 39.48L112.59 39.93L114.03 40.40L115.47 40.86L116.91 41.34L118.34 41.82L119.78 42.31L121.21 42.81L122.64 43.31L124.07 43.82L125.50 44.33L126.92 44.85L128.35 45.37L129.77 45.90L131.19 46.44L132.61 46.98L134.02 47.52L135.44 48.07L136.86 48.62L138.27 49.18L139.68 49.74L141.09 50.31L142.50 50.88L143.91 51.45L145.31 52.03L146.72 52.61L148.12 53.19L149.52 53.78L150.92 54.37L152.32 54.96L153.72 55.55L155.12 56.15L156.51 56.74L157.91 57.34L159.30 57.95L160.70 58.55L162.09 59.15L163.48 59.76L164.87 60.36L166.25 60.97L167.64 61.58L169.03 62.19L170.41 62.81L171.79 63.42L173.17 64.04L174.56 64.66L175.93 65.28L177.31 65.91L178.69 66.53L180.06 67.16L181.44 67.79L182.81 68.42L184.18 69.06L185.55 69.70L186.91 70.34L188.28 70.98L189.64 71.63L191.01 72.28L192.37 72.93L193.73 73.59L195.08 74.25L196.44 74.91L197.79 75.57L199.15 76.24L200.50 76.91L201.84 77.59L203.19 78.27L204.54 78.95L205.88 79.64L207.22 80.33L208.56 81.02L209.90 81.72L211.23 82.42L212.57 83.12L213.90 83.83L215.23 84.55L216.55 85.26L217.88 85.99L219.20 86.71L220.52 87.44L221.84 88.18L223.16 88.92L224.47 89.66L225.78 90.41L227.09 91.17L228.40 91.93L229.70 92.69L231.00 93.46L232.30 94.24L233.60 95.02L234.90 95.80L236.19 96.59L237.48 97.39L238.77 98.19L240.05 98.99L241.34 99.81L242.62 100.62L243.89 101.45L245.17 102.28L246.44 103.11L247.71 103.95L248.98 104.80L250.24 105.65L251.50 106.51L252.76 107.37L254.02 108.24L255.27 109.11L256.52 109.99L257.77 110.88L259.01 111.77L260.25 112.66L261.49 113.56L262.72 114.46L263.96 115.37L265.18 116.28L266.41 117.20L267.63 118.12L268.85 119.05L270.06 119.98L271.28 120.92L272.49 121.86L273.69 122.80L274.89 123.75L276.09 124.70L277.29 125.65L278.48 126.61L279.66 127.57L280.85 128.54L282.03 129.51L283.21 130.48L284.38 131.46L285.55 132.44L286.71 133.42L287.87 134.41L289.03 135.40L290.19 136.39L291.34 137.39L292.49 138.39L293.63 139.39L294.77 140.40L295.91 141.41L297.04 142.42L298.17 143.44L299.29 144.46L300.42 145.48L301.54 146.51L302.65 147.54L303.76 148.57L304.87 149.60L305.98 150.64L307.08 151.68L308.18 152.73L309.27 153.78L310.36 154.83L311.45 155.88L312.53 156.94L313.61 158.00L314.69 159.06L315.76 160.13L316.84 161.20L317.90 162.27L318.97 163.34L320.03 164.42L321.09 165.50L322.14 166.58L323.19 167.67L324.24 168.76L325.28 169.85L326.32 170.95L327.36 172.04L328.40 173.14L329.43 174.25L330.46 175.35L331.48 176.46L332.50 177.57L333.52 178.69L334.54 179.81L335.55 180.93L336.56 182.05L337.56 183.17L338.57 184.30L339.57 185.43L340.56 186.57L341.56 187.70L342.55 188.84L343.54 189.98L344.52 191.12L345.50 192.27L346.48 193.42L347.46 194.57L348.43 195.72L349.40 196.88L350.37 198.04L351.33 199.20L352.29 200.37L353.25 201.53L354.21 202.70L355.16 203.87L356.11 205.04L357.05 206.22L358.00 207.40L358.94 208.58L359.88 209.76L360.81 210.95L361.75 212.13L362.68 213.32L363.60 214.52L364.53 215.71L365.45 216.91L366.37 218.11L367.28 219.31L368.20 220.51L369.11 221.72L370.01 222.92L370.92 224.13L371.82 225.35L372.72 226.56L373.62 227.78L374.51 229.00L375.41 230.22L376.29 231.44L377.18 232.66L378.07 233.89L378.95 235.12L379.83 236.35L380.70 237.58L381.58 238.82L382.45 240.05L383.32 241.29L384.18 242.53L385.05 243.78L385.91 245.02L386.77 246.27L387.63 247.51L388.48 248.76L389.33 250.02L390.18 251.27L391.03 252.53L391.87 253.78L392.71 255.04L393.55 256.30L394.39 257.57L395.23 258.83L396.06 260.10L396.89 261.37L397.72 262.64L398.54 263.91L399.37 265.18L400.19 266.46L401.01 267.73L401.83 269.01L402.64 270.29L403.45 271.57L404.26 272.86L405.07 274.14L405.88 275.43L406.68 276.71L407.48 278.00L408.28 279.29L409.08 280.59L409.88 281.88L410.67 283.18L411.46 284.47L412.25 285.77L413.04 287.07L413.82 288.37L414.60 289.67L415.38 290.98L416.16 292.28L416.94 293.59L417.72 294.90L418.49 296.21L419.26 297.52L420.03 298.83L420.80 300.14L421.56 301.46L422.32 302.77L423.09 304.09L423.84 305.41L424.60 306.73L425.36 308.05L426.11 309.37L426.86 310.69L427.61 312.02L428.36 313.34L429.11 314.67L429.85 316.00L430.60 317.32L431.34 318.65L432.08 319.98L432.81 321.32L433.55 322.65L434.29 323.98L435.02 325.32L435.75 326.65L436.48 327.99L437.21 329.33L437.93 330.67L438.66 332.01L439.38 333.35L440.10 334.69L440.82 336.03L441.54 337.38L442.25 338.72L442.97 340.06L443.68 341.41L444.39 342.76L445.10 344.10L445.81 345.45L446.52 346.80L447.22 348.15L447.93 349.50L448.63 350.85L449.33 352.21L450.03 353.56L450.73 354.91L451.42 356.27L452.12 357.62L452.81 358.98L453.51 360.33L454.20 361.69L454.89 363.05L455.58 364.40L456.26 365.76L456.95 367.12L457.63 368.48L458.32 369.84L459.00 371.20L459.68 372.56L460.36 373.92L461.04 375.29L461.71 376.65L462.39 378.01L463.06 379.37L463.74 380.74L464.41 382.10L465.08 383.47L465.75 384.83L466.42 386.20L467.09 387.56L467.75 388.93L468.42 390.29L469.08 391.66L469.74 393.03L470.41 394.39L471.07 395.76L471.73 397.13L472.39 398.50L473.04 399.87L473.70 401.23L474.36 402.60L475.01 403.97L475.66 405.34L476.32 406.71L476.97 408.08L477.62 409.45L478.27 410.81L478.92 412.18L479.57 413.55L480.22 414.92L480.86 416.29L481.51 417.66L482.15 419.03L482.80 420.40L483.44 421.78L484.08 423.15L484.73 424.52L485.37 425.89L486.01 427.26L486.65 428.63L487.29 430.00L487.93 431.37L488.57 432.74L489.20 434.12L489.84 435.49L490.48 436.86L491.12 438.23L491.75 439.60L492.39 440.98L493.02 442.35L493.66 443.72L494.29 445.09L494.92 446.47L495.56 447.84L496.19 449.21L496.82 450.58L497.45 451.96L498.09 453.33L498.72 454.70L499.35 456.08L499.98 457.45L500.61 458.82L501.24 460.20L501.87 461.57L502.50 462.94L503.13 464.32L503.76 465.69L504.39 467.06L505.02 468.44L505.65 469.81L506.28 471.18L506.91 472.56L507.54 473.93L508.17 475.31L508.80 476.68L509.43 478.05L510.06 479.43L510.69 480.80L511.31 482.18L511.94 483.55L512.57 484.92L513.20 486.30L513.83 487.67L514.46 489.05L515.09 490.42L515.73 491.79L516.36 493.17L516.99 494.54L517.62 495.91L518.25 497.29L518.88 498.66L519.51 500.04L520.15 501.41L520.78 502.78L521.41 504.16L522.05 505.53L522.68 506.90L523.32 508.28L523.95 509.65L524.59 511.03L525.22 512.40L525.86 513.77L526.50 515.15L527.13 516.52L527.77 517.89L528.41 519.27L529.05 520.64L529.69 522.01L530.33 523.38L530.97 524.76L531.61 526.13L532.26 527.50L532.90 528.87L533.54 530.25L534.19 531.62L534.83 532.99L535.48 534.36L536.13 535.74L536.77 537.11L537.42 538.48L538.07 539.85L538.72 541.22L539.37 542.60L540.03 543.97L540.68 545.34L541.33 546.71L541.99 548.08L542.64 549.45L543.30 550.82L543.96 552.19L544.62 553.56L545.28 554.93L545.94 556.30L546.60 557.67L547.27 559.04L547.93 560.41L548.60 561.78L549.26 563.15L549.93 564.52L550.60 565.89L551.27 567.26L551.94 568.63L552.62 570.00L553.29 571.37L553.97 572.73L554.64 574.10L555.32 575.47L556.00 576.84L556.68 578.21L557.37 579.57" stroke-width="3.0"/>
<path d="M87.99 33.38L89.41 33.88L90.84 34.38L92.26 34.89L93.69 35.39L95.11 35.90L96.54 36.41L97.96 36.92L99.39 37.43L100.81 37.95L102.24 38.46L103.66 38.98L105.09 39.50L106.51 40.02L107.94 40.55L109.36 41.07L110.78 41.60L112.21 42.13L113.63 42.66L115.05 43.19L116.48 43.73L117.90 44.26L119.32 44.80L120.74 45.34L122.16 45.89L123.58 46.43L125.00 46.98L126.42 47.53L127.84 48.08L129.26 48.63L130.68 49.19L132.09 49.75L133.51 50.31L134.92 50.87L136.34 51.44L137.75 52.01L139.17 52.58L140.58 53.15L141.99 53.72L143.40 54.30L144.81 54.88L146.22 55.46L147.63 56.05L149.03 56.63L150.44 57.22L151.84 57.82L153.25 58.41L154.65 59.01L156.05 59.61L157.45 60.21L158.85 60.82L160.25 61.43L161.65 62.04L163.04 62.66L164.44 63.27L165.83 63.89L167.22 64.51L168.61 65.14L170.00 65.77L171.39 66.40L172.78 67.04L174.16 67.67L175.55 68.31L176.93 68.96L178.31 69.60L179.69 70.25L181.07 70.91L182.44 71.56L183.82 72.22L185.19 72.88L186.56 73.55L187.93 74.22L189.30 74.89L190.66 75.57L192.02 76.24L193.39 76.93L194.75 77.61L196.10 78.30L197.46 78.99L198.82 79.69L200.17 80.39L201.52 81.09L202.87 81.79L204.21 82.50L205.56 83.22L206.90 83.93L208.24 84.65L209.58 85.38L210.91 86.10L212.25 86.83L213.58 87.57L214.91 88.31L216.24 89.05L217.56 89.80L218.88 90.55L220.20 91.30L221.52 92.06L222.84 92.82L224.15 93.58L225.46 94.35L226.77 95.13L228.07 95.90L229.38 96.68L230.68 97.47L231.97 98.26L233.27 99.05L234.56 99.85L235.85 100.65L237.14 101.45L238.42 102.26L239.70 103.08L240.98 103.89L242.26 104.72L243.53 105.54L244.80 106.37L246.07 107.21L247.33 108.05L248.60 108.89L249.85 109.74L251.11 110.59L252.36 111.45L253.61 112.31L254.86 113.17L256.10 114.04L257.34 114.92L258.58 115.80L259.81 116.68L261.05 117.57L262.27 118.46L263.50 119.36L264.72 120.26L265.94 121.17L267.15 122.08L268.36 123.00L269.57 123.92L270.77 124.84L271.97 125.78L273.17 126.71L274.37 127.65L275.56 128.60L276.74 129.54L277.93 130.50L279.11 131.46L280.28 132.42L281.46 133.39L282.63 134.36L283.79 135.34L284.96 136.32L286.12 137.30L287.27 138.29L288.43 139.29L289.57 140.28L290.72 141.29L291.86 142.29L293.00 143.30L294.14 144.32L295.27 145.34L296.40 146.36L297.52 147.39L298.64 148.42L299.76 149.45L300.88 150.49L301.99 151.53L303.09 152.58L304.20 153.63L305.30 154.68L306.40 155.74L307.49 156.80L308.58 157.87L309.67 158.93L310.75 160.01L311.83 161.08L312.90 162.16L313.98 163.24L315.05 164.33L316.11 165.42L317.17 166.51L318.23 167.61L319.29 168.71L320.34 169.81L321.39 170.92L322.43 172.03L323.47 173.14L324.51 174.25L325.54 175.37L326.57 176.49L327.60 177.62L328.62 178.75L329.64 179.88L330.66 181.01L331.67 182.15L332.68 183.29L333.68 184.43L334.69 185.57L335.69 186.72L336.68 187.87L337.67 189.03L338.66 190.18L339.65 191.34L340.63 192.50L341.61 193.67L342.59 194.84L343.56 196.01L344.53 197.18L345.50 198.35L346.46 199.53L347.42 200.71L348.37 201.89L349.33 203.08L350.28 204.27L351.23 205.46L352.17 206.65L353.11 207.85L354.05 209.04L354.98 210.24L355.92 211.45L356.84 212.65L357.77 213.86L358.69 215.07L359.61 216.28L360.53 217.49L361.44 218.71L362.35 219.92L363.26 221.14L364.17 222.37L365.07 223.59L365.97 224.82L366.87 226.05L367.76 227.28L368.65 228.51L369.54 229.74L370.42 230.98L371.31 232.22L372.19 233.46L373.06 234.70L373.94 235.94L374.81 237.19L375.68 238.44L376.55 239.69L377.41 240.94L378.27 242.19L379.13 243.44L379.99 244.70L380.84 245.96L381.69 247.22L382.54 248.48L383.38 249.74L384.23 251.01L385.07 252.28L385.91 253.55L386.74 254.82L387.57 256.09L388.40 257.36L389.23 258.64L390.06 259.91L390.88 261.19L391.70 262.47L392.52 263.75L393.34 265.04L394.15 266.32L394.96 267.61L395.77 268.89L396.58 270.18L397.38 271.47L398.18 272.77L398.98 274.06L399.78 275.35L400.57 276.65L401.36 277.95L402.16 279.25L402.94 280.55L403.73 281.85L404.51 283.15L405.29 284.46L406.07 285.76L406.85 287.07L407.63 288.38L408.40 289.69L409.17 291.00L409.94 292.32L410.70 293.63L411.47 294.95L412.23 296.26L412.99 297.58L413.75 298.90L414.51 300.22L415.26 301.54L416.01 302.86L416.76 304.19L417.51 305.51L418.26 306.84L419.00 308.17L419.74 309.49L420.48 310.82L421.22 312.15L421.96 313.49L422.69 314.82L423.43 316.15L424.16 317.49L424.89 318.82L425.61 320.16L426.34 321.50L427.06 322.84L427.78 324.18L428.50 325.52L429.22 326.86L429.94 328.20L430.65 329.55L431.37 330.89L432.08 332.24L432.79 333.58L433.50 334.93L434.20 336.28L434.91 337.63L435.61 338.98L436.31 340.33L437.01 341.68L437.71 343.03L438.40 344.39L439.10 345.74L439.79 347.09L440.48 348.45L441.18 349.81L441.86 351.16L442.55 352.52L443.24 353.88L443.92 355.24L444.60 356.60L445.29 357.96L445.97 359.32L446.64 360.68L447.32 362.04L448.00 363.41L448.67 364.77L449.34 366.13L450.02 367.50L450.69 368.86L451.36 370.23L452.02 371.60L452.69 372.96L453.35 374.33L454.02 375.70L454.68 377.07L455.34 378.44L456.00 379.81L456.66 381.18L457.32 382.55L457.98 383.92L458.63 385.29L459.29 386.67L459.94 388.04L460.59 389.41L461.25 390.79L461.90 392.16L462.55 393.54L463.19 394.91L463.84 396.29L464.49 397.67L465.13 399.04L465.78 400.42L466.42 401.80L467.07 403.18L467.71 404.56L468.35 405.93L468.99 407.31L469.63 408.69L470.27 410.07L470.90 411.45L471.54 412.84L472.18 414.22L472.81 415.60L473.45 416.98L474.08 418.36L474.72 419.75L475.35 421.13L475.98 422.51L476.61 423.90L477.24 425.28L477.87 426.66L478.50 428.05L479.13 429.43L479.76 430.82L480.39 432.20L481.01 433.59L481.64 434.98L482.27 436.36L482.89 437.75L483.52 439.14L484.14 440.52L484.77 441.91L485.39 443.30L486.01 444.68L486.64 446.07L487.26 447.46L487.88 448.85L488.50 450.23L489.13 451.62L489.75 453.01L490.37 454.40L490.99 455.79L491.61 457.18L492.23 458.57L492.85 459.96L493.47 461.34L494.09 462.73L494.71 464.12L495.33 465.51L495.95 466.90L496.57 468.29L497.19 469.68L497.81 471.07L498.43 472.46L499.05 473.85L499.67 475.24L500.28 476.63L500.90 478.02L501.52 479.41L502.14 480.80L502.76 482.19L503.38 483.58L504.00 484.97L504.62 486.36L505.24 487.75L505.86 489.14L506.48 490.53L507.10 491.92L507.72 493.31L508.34 494.70L508.96 496.09L509.58 497.47L510.20 498.86L510.82 500.25L511.44 501.64L512.06 503.03L512.68 504.42L513.31 505.81L513.93 507.20L514.55 508.58L515.17 509.97L515.80 511.36L516.42 512.75L517.04 514.13L517.67 515.52L518.29 516.91L518.92 518.29L519.54 519.68L520.17 521.07L520.79 522.45L521.42 523.84L522.05 525.23L522.68 526.61L523.30 528.00L523.93 529.38L524.56 530.76L525.19 532.15L525.82 533.53L526.45 534.92L527.08 536.30L527.72 537.68L528.35 539.06L528.98 540.45L529.62 541.83L530.26 543.21L530.89 544.59L531.54 545.97L532.18 547.35L532.82 548.73L533.47 550.10L534.12 551.48L534.77 552.86L535.42 554.23L536.08 555.61L536.74 556.98L537.41 558.35L538.07 559.72L538.75 561.09L539.42 562.46L540.10 563.83L540.78 565.20L541.47 566.57L542.16 567.93L542.84 569.30L543.52 570.67L544.18 572.04L544.84 573.41L545.47 574.79L546.08 576.17L546.67 577.55L547.23 578.95" stroke-width="1.5" stroke-dasharray="6.4 2.3"/>
</g>
<g stroke="#000" stroke-width="2" fill="none">
<rect x="78" y="7" width="503" height="569"/>
<path d="M128.30 576.00V566.40M128.30 7.00V16.60"/>
<path d="M178.60 576.00V566.40M178.60 7.00V16.60"/>
<path d="M228.90 576.00V566.40M228.90 7.00V16.60"/>
<path d="M279.20 576.00V566.40M279.20 7.00V16.60"/>
<path d="M329.50 576.00V566.40M329.50 7.00V16.60"/>
<path d="M379.80 576.00V566.40M379.80 7.00V16.60"/>
<path d="M430.10 576.00V566.40M430.10 7.00V16.60"/>
<path d="M480.40 576.00V566.40M480.40 7.00V16.60"/>
<path d="M530.70 576.00V566.40M530.70 7.00V16.60"/>
<path d="M78.00 519.10H87.60M581.00 519.10H571.40"/>
<path d="M78.00 462.20H87.60M581.00 462.20H571.40"/>
<path d="M78.00 405.30H87.60M581.00 405.30H571.40"/>
<path d="M78.00 348.40H87.60M581.00 348.40H571.40"/>
<path d="M78.00 291.50H87.60M581.00 291.50H571.40"/>
<path d="M78.00 234.60H87.60M581.00 234.60H571.40"/>
<path d="M78.00 177.70H87.60M581.00 177.70H571.40"/>
<path d="M78.00 120.80H87.60M581.00 120.80H571.40"/>
<path d="M78.00 63.90H87.60M581.00 63.90H571.40"/>
</g>
<g font-family="Liberation Sans, sans-serif" font-size="17.8" fill="#000" stroke="#000" stroke-width="0.3">
<text x="69.00" y="582.90" text-anchor="end">190</text>
<text x="69.00" y="525.30" text-anchor="end">200</text>
<text x="69.00" y="468.40" text-anchor="end">210</text>
<text x="69.00" y="411.50" text-anchor="end">220</text>
<text x="69.00" y="354.60" text-anchor="end">230</text>
<text x="69.00" y="297.70" text-anchor="end">240</text>
<text x="69.00" y="240.80" text-anchor="end">250</text>
<text x="69.00" y="183.90" text-anchor="end">260</text>
<text x="69.00" y="127.00" text-anchor="end">270</text>
<text x="69.00" y="70.10" text-anchor="end">280</text>
<text x="69.00" y="13.20" text-anchor="end">290</text>
<text x="81.50" y="596.80" text-anchor="middle">0</text>
<text x="131.80" y="596.80" text-anchor="middle">10</text>
<text x="182.10" y="596.80" text-anchor="middle">20</text>
<text x="232.40" y="596.80" text-anchor="middle">30</text>
<text x="282.70" y="596.80" text-anchor="middle">40</text>
<text x="333.00" y="596.80" text-anchor="middle">50</text>
<text x="383.30" y="596.80" text-anchor="middle">60</text>
<text x="433.60" y="596.80" text-anchor="middle">70</text>
<text x="483.90" y="596.80" text-anchor="middle">80</text>
<text x="534.20" y="596.80" text-anchor="middle">90</text>
<text x="584.50" y="596.80" text-anchor="middle">100</text>
<text x="167.00" y="623.00">days after 2010 DEC 3.5 (2455534.0 UT)</text>
<text transform="translate(14.90 383.00) rotate(-90)">Position angle (degree)</text>
<text x="484.70" y="32.90" text-anchor="end">Anti-solar direction</text>
<text x="484.70" y="53.90" text-anchor="end">Synchrone (Nov 24)</text>
<text x="484.70" y="74.90" text-anchor="end">Synchrone (Nov 27)</text>
<text x="484.70" y="95.90" text-anchor="end">Synchrone (Nov 30)</text>
<text x="484.70" y="116.90" text-anchor="end">Synchrone (Dec3.5)</text>
<text x="484.70" y="137.90" text-anchor="end">Synchrone (Dec 7)</text>
</g>
<g fill="none" stroke="#000">
<path d="M496.00 26.50H557.00" stroke-width="1.2"/>
<path d="M496.00 47.50H557.00" stroke-width="1.0" stroke-dasharray="1.9 2.6"/>
<path d="M496.00 68.50H557.00" stroke-width="1.4" stroke-dasharray="1.6 2.2"/>
<path d="M496.00 89.50H557.00" stroke-width="1.5" stroke-dasharray="6.4 4.1 1.5 4.3"/>
<path d="M496.00 110.50H557.00" stroke-width="3.0"/>
<path d="M496.00 131.50H557.00" stroke-width="1.5" stroke-dasharray="6.4 2.3"/>
</g>
<g stroke="#000" stroke-width="1.3" fill="none">
<path d="M123.30 55.00V72.00M118.40 55.00H128.20M118.40 72.00H128.20"/>
<circle cx="123.30" cy="63.30" r="4.3" fill="none"/>
<path d="M158.50 61.00V77.50M153.60 61.00H163.40M153.60 77.50H163.40"/>
<circle cx="158.50" cy="69.30" r="4.3" fill="none"/>
<path d="M253.00 104.50V116.00M248.10 104.50H257.90M248.10 116.00H257.90"/>
<circle cx="253.00" cy="110.30" r="4.3" fill="none"/>
<path d="M394.80 251.40V273.90M389.90 251.40H399.70M389.90 273.90H399.70"/>
<circle cx="394.80" cy="262.90" r="4.4" fill="#000" stroke="none"/>
<path d="M398.60 260.50V282.50M393.70 260.50H403.50M393.70 282.50H403.50"/>
<circle cx="398.60" cy="271.50" r="4.4" fill="#000" stroke="none"/>
<path d="M404.80 262.00V284.00M399.90 262.00H409.70M399.90 284.00H409.70"/>
<circle cx="404.80" cy="272.00" r="4.4" fill="#000" stroke="none"/>
<path d="M525.50 507.50V518.75M520.60 507.50H530.40M520.60 518.75H530.40"/>
<circle cx="525.50" cy="513.00" r="4.4" fill="#000" stroke="none"/>
</g>
</svg></body></html>
